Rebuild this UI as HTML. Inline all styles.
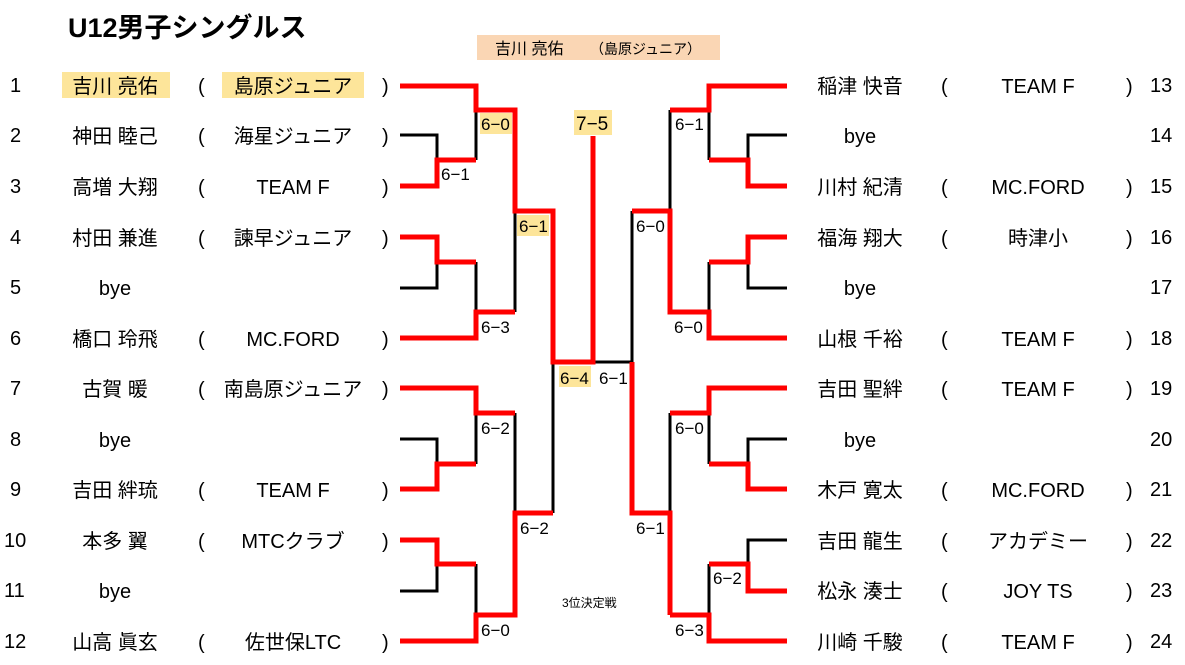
<!DOCTYPE html>
<html><head><meta charset="utf-8"><style>
body{margin:0;background:#fff;}
svg{display:block;font-family:"Liberation Sans","Noto Sans CJK JP",sans-serif;}
.n{font-size:20px;fill:#000;}
.s{font-size:17px;fill:#000;}
</style></head><body>
<svg width="1185" height="665" viewBox="0 0 1185 665" xmlns="http://www.w3.org/2000/svg">
<text x="68" y="37" font-size="27" font-weight="bold">U12男子シングルス</text>
<rect x="477" y="35" width="243" height="25" fill="#fad6b4"/>
<text x="495" y="54" font-size="16">吉川 亮佑</text>
<text x="590" y="54" font-size="14">（島原ジュニア）</text>
<rect x="62" y="72" width="108" height="26" fill="#fde59a"/>
<rect x="222" y="72" width="142" height="26" fill="#fde59a"/>
<g fill="none" stroke="#000" stroke-width="3">
<polyline points="400,135 437,135 437,160"/>
<polyline points="476,110 476,160"/>
<polyline points="400,288 437,288 437,262"/>
<polyline points="476,262 476,312"/>
<polyline points="515,211 515,312"/>
<polyline points="400,439 437,439 437,464"/>
<polyline points="476,413 476,464"/>
<polyline points="515,413 515,513"/>
<polyline points="400,591 437,591 437,564"/>
<polyline points="476,564 476,615"/>
<polyline points="553,362 553,513"/>
<polyline points="593,362 632,362"/>
<polyline points="787,135 748,135 748,160"/>
<polyline points="709,110 709,160"/>
<polyline points="670,110 670,211"/>
<polyline points="787,288 748,288 748,262"/>
<polyline points="709,262 709,312"/>
<polyline points="632,211 632,362"/>
<polyline points="787,439 748,439 748,464"/>
<polyline points="709,413 709,464"/>
<polyline points="670,413 670,513"/>
<polyline points="787,540 748,540 748,564"/>
<polyline points="709,564 709,615"/>
</g>
<g fill="none" stroke="#f00" stroke-width="5" stroke-linejoin="miter">
<polyline points="400,86 476,86 476,110 515,110 515,211 553,211 553,362 593,362 593,136"/>
<polyline points="400,186 437,186 437,160 476,160"/>
<polyline points="400,237 437,237 437,262 476,262"/>
<polyline points="400,338 476,338 476,312 515,312"/>
<polyline points="400,388 476,388 476,413 515,413"/>
<polyline points="400,489 437,489 437,464 476,464"/>
<polyline points="400,540 437,540 437,564 476,564"/>
<polyline points="400,641 476,641 476,615 515,615 515,513 553,513"/>
<polyline points="787,86 709,86 709,110 670,110"/>
<polyline points="787,186 748,186 748,160 709,160"/>
<polyline points="787,237 748,237 748,262 709,262"/>
<polyline points="787,338 709,338 709,312 670,312 670,211 632,211"/>
<polyline points="632,362 632,513 670,513 670,615"/>
<polyline points="787,388 709,388 709,413 670,413"/>
<polyline points="787,489 748,489 748,464 709,464"/>
<polyline points="787,591 748,591 748,564 709,564"/>
<polyline points="787,641 709,641 709,615 670,615"/>
</g>
<g fill="#fde59a">
<rect x="480" y="113" width="32" height="21"/>
<rect x="517" y="215" width="32" height="21"/>
<rect x="559" y="366" width="32" height="21"/>
<rect x="574" y="110" width="38" height="25"/>
</g>
<g class="s">
<text x="481" y="130">6−0</text><text x="441" y="180">6−1</text>
<text x="519" y="232">6−1</text><text x="481" y="333">6−3</text>
<text x="560" y="384">6−4</text><text x="599" y="384">6−1</text>
<text x="481" y="434">6−2</text><text x="520" y="534">6−2</text>
<text x="481" y="636">6−0</text>
<text x="675" y="130">6−1</text><text x="636" y="232">6−0</text>
<text x="674" y="333">6−0</text><text x="675" y="434">6−0</text>
<text x="636" y="534">6−1</text><text x="713" y="584">6−2</text>
<text x="675" y="636">6−3</text>
</g>
<text x="576" y="130" font-size="19">7−5</text>
<text x="562" y="607" font-size="12">3位決定戦</text>
<g class="n" font-size="18">
<text x="10" y="92">1</text><text x="10" y="142">2</text><text x="10" y="193">3</text><text x="10" y="244">4</text>
<text x="10" y="294">5</text><text x="10" y="345">6</text><text x="10" y="395">7</text><text x="10" y="446">8</text>
<text x="10" y="496">9</text><text x="4" y="547">10</text><text x="4" y="597">11</text><text x="4" y="648">12</text>
<text x="1150" y="92">13</text><text x="1150" y="142">14</text><text x="1150" y="193">15</text><text x="1150" y="244">16</text>
<text x="1150" y="294">17</text><text x="1150" y="345">18</text><text x="1150" y="395">19</text><text x="1150" y="446">20</text>
<text x="1150" y="496">21</text><text x="1150" y="547">22</text><text x="1150" y="597">23</text><text x="1150" y="648">24</text>
</g>
<g class="n" text-anchor="middle">
<text x="115" y="93">吉川 亮佑</text><text x="115" y="143">神田 睦己</text><text x="115" y="194">高増 大翔</text>
<text x="115" y="245">村田 兼進</text><text x="115" y="295">bye</text><text x="115" y="346">橋口 玲飛</text>
<text x="115" y="396">古賀 暖</text><text x="115" y="447">bye</text><text x="115" y="497">吉田 絆琉</text>
<text x="115" y="548">本多 翼</text><text x="115" y="598">bye</text><text x="115" y="649">山高 眞玄</text>
<text x="293" y="93">島原ジュニア</text><text x="293" y="143">海星ジュニア</text><text x="293" y="194">TEAM F</text>
<text x="293" y="245">諫早ジュニア</text><text x="293" y="346">MC.FORD</text><text x="293" y="396">南島原ジュニア</text>
<text x="293" y="497">TEAM F</text><text x="293" y="548">MTCクラブ</text><text x="293" y="649">佐世保LTC</text>
<text x="860" y="93">稲津 快音</text><text x="860" y="143">bye</text><text x="860" y="194">川村 紀清</text>
<text x="860" y="245">福海 翔大</text><text x="860" y="295">bye</text><text x="860" y="346">山根 千裕</text>
<text x="860" y="396">吉田 聖絆</text><text x="860" y="447">bye</text><text x="860" y="497">木戸 寛太</text>
<text x="860" y="548">吉田 龍生</text><text x="860" y="598">松永 湊士</text><text x="860" y="649">川崎 千駿</text>
<text x="1038" y="93">TEAM F</text><text x="1038" y="194">MC.FORD</text><text x="1038" y="245">時津小</text>
<text x="1038" y="346">TEAM F</text><text x="1038" y="396">TEAM F</text><text x="1038" y="497">MC.FORD</text>
<text x="1038" y="548">アカデミー</text><text x="1038" y="598">JOY  TS</text><text x="1038" y="649">TEAM F</text>
</g>
<g class="n">
<text x="198" y="93">(</text><text x="382" y="93">)</text>
<text x="198" y="143">(</text><text x="382" y="143">)</text>
<text x="198" y="194">(</text><text x="382" y="194">)</text>
<text x="198" y="245">(</text><text x="382" y="245">)</text>
<text x="198" y="346">(</text><text x="382" y="346">)</text>
<text x="198" y="396">(</text><text x="382" y="396">)</text>
<text x="198" y="497">(</text><text x="382" y="497">)</text>
<text x="198" y="548">(</text><text x="382" y="548">)</text>
<text x="198" y="649">(</text><text x="382" y="649">)</text>
<text x="941" y="93">(</text><text x="1126" y="93">)</text>
<text x="941" y="194">(</text><text x="1126" y="194">)</text>
<text x="941" y="245">(</text><text x="1126" y="245">)</text>
<text x="941" y="346">(</text><text x="1126" y="346">)</text>
<text x="941" y="396">(</text><text x="1126" y="396">)</text>
<text x="941" y="497">(</text><text x="1126" y="497">)</text>
<text x="941" y="548">(</text><text x="1126" y="548">)</text>
<text x="941" y="598">(</text><text x="1126" y="598">)</text>
<text x="941" y="649">(</text><text x="1126" y="649">)</text>
</g>
</svg>
</body></html>
